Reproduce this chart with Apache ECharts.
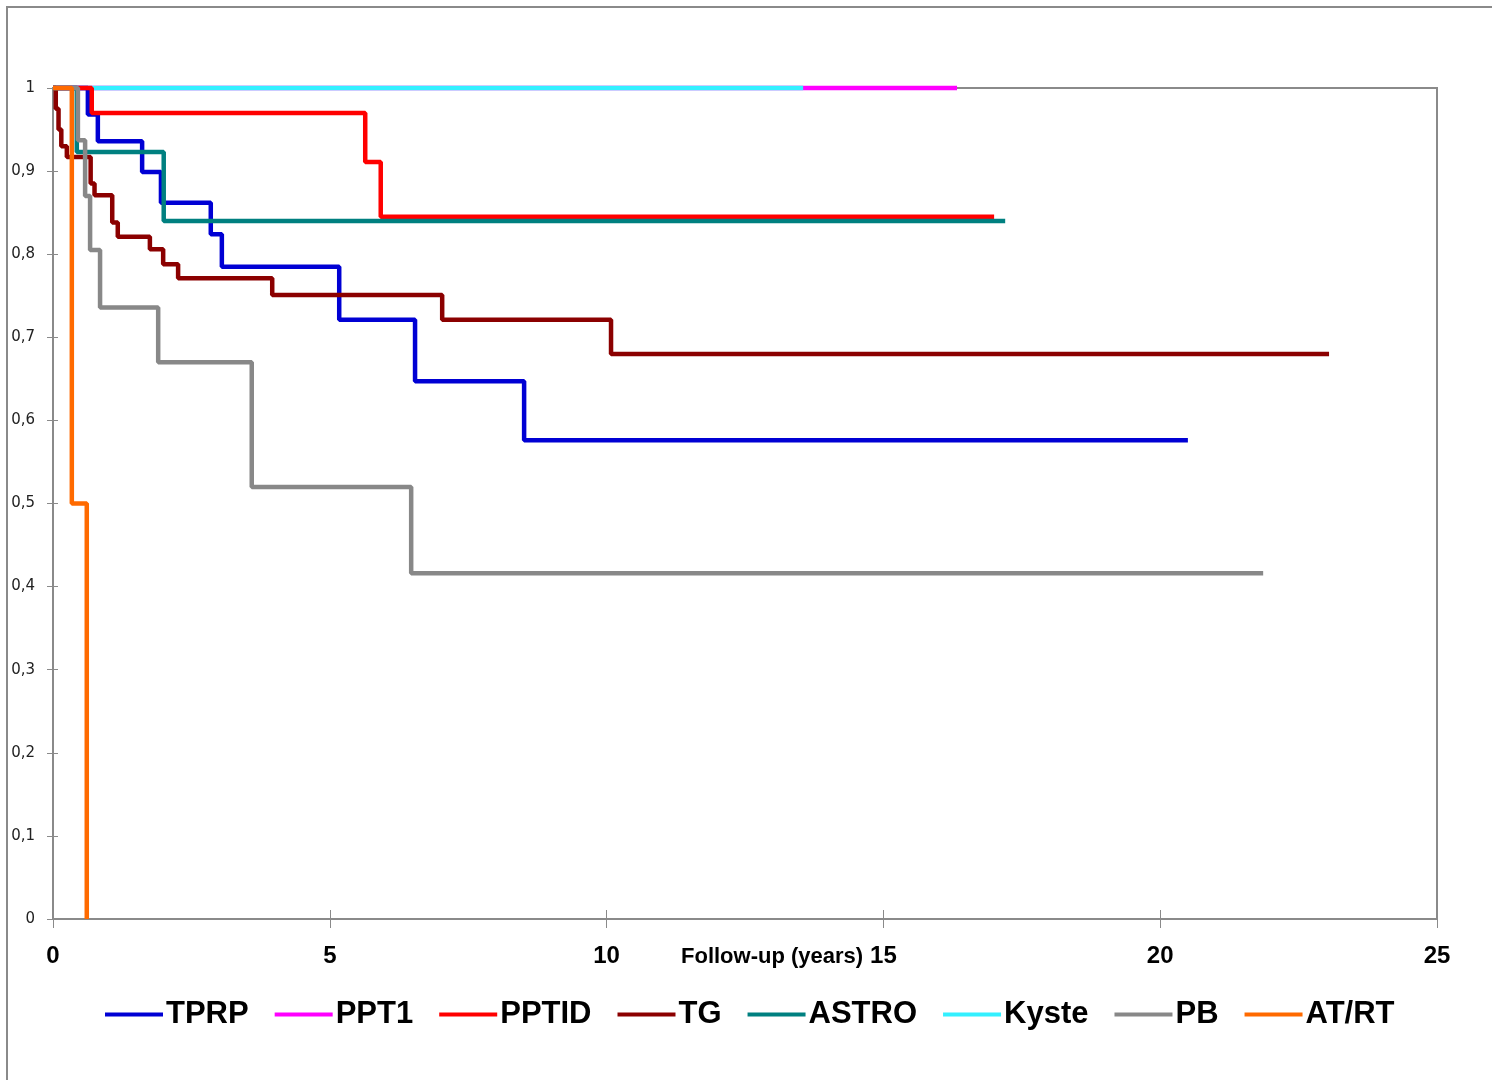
<!DOCTYPE html>
<html>
<head>
<meta charset="utf-8">
<script src="https://cdn.jsdelivr.net/npm/echarts@6/dist/echarts.min.js"></script>
<style>
html,body{margin:0;padding:0;background:#fff;}
#chart{width:1495px;height:1080px;}
</style>
</head>
<body>
<div id="chart"></div>
<script>
// ---- data (years, survival) ----
var seriesNames = ['TPRP', 'PPT1', 'PPTID', 'TG', 'ASTRO', 'Kyste', 'PB', 'AT/RT'];

var tprpTimes = [0, 0.63, 0.81, 1.61, 1.95, 2.85, 3.05, 5.17, 6.54, 8.51, 20.5];
var tprpSurv  = [1, 0.968, 0.936, 0.899, 0.862, 0.824, 0.785, 0.721, 0.647, 0.576, 0.576];

var ppt1Times = [0, 16.33];
var ppt1Surv  = [1, 1];

var pptidTimes = [0, 0.70, 5.64, 5.92, 17.0];
var pptidSurv  = [1, 0.970, 0.911, 0.845, 0.845];

var tgTimes = [0, 0.05, 0.10, 0.15, 0.25, 0.68, 0.75, 1.07, 1.17, 1.75, 1.99, 2.26, 3.96, 7.03, 10.08, 23.05];
var tgSurv  = [1, 0.975, 0.950, 0.930, 0.917, 0.885, 0.871, 0.838, 0.821, 0.806, 0.788, 0.771, 0.751, 0.721, 0.680, 0.680];

var astroTimes = [0, 0.43, 2.0, 17.2];
var astroSurv  = [1, 0.923, 0.840, 0.840];

var kysteTimes = [0, 13.55];
var kysteSurv  = [1, 1];

var pbTimes = [0, 0.45, 0.58, 0.67, 0.85, 1.90, 3.59, 6.47, 21.86];
var pbSurv  = [1, 0.937, 0.870, 0.805, 0.736, 0.670, 0.520, 0.416, 0.416];

var atrtTimes = [0, 0.34, 0.61];
var atrtSurv  = [1, 0.5, 0];

var xTicks = [0, 5, 10, 15, 20, 25];
var yTickLabels = ['0', '0,1', '0,2', '0,3', '0,4', '0,5', '0,6', '0,7', '0,8', '0,9', '1'];
var xAxisTitle = 'Follow-up (years)';

// ---- styling ----
var colors = ['#0000D4', '#FF00FF', '#FF0000', '#8B0000', '#008080', '#33F0FF', '#888888', '#FF6A00'];
var allTimes = [tprpTimes, ppt1Times, pptidTimes, tgTimes, astroTimes, kysteTimes, pbTimes, atrtTimes];
var allSurv = [tprpSurv, ppt1Surv, pptidSurv, tgSurv, astroSurv, kysteSurv, pbSurv, atrtSurv];

function pairs(t, s) { return t.map(function (v, i) { return [v, s[i]]; }); }

// drawing order: PPT1 then Kyste underneath the others
var drawOrder = [1, 5, 0, 2, 3, 4, 6, 7];
var series = drawOrder.map(function (i) {
  return {
    name: seriesNames[i],
    type: 'line',
    step: 'end',
    data: pairs(allTimes[i], allSurv[i]),
    showSymbol: false,
    symbol: 'none',
    clip: false,
    lineStyle: { color: colors[i], width: 4.5 },
    itemStyle: { color: colors[i] },
    z: 3,
    animation: false
  };
});

var chart = echarts.init(document.getElementById('chart'));
var gridL = 53, gridT = 88, gridR = 58, gridB = 161;
var axisGray = '#8a8a8a';
chart.setOption({
  animation: false,
  backgroundColor: '#fff',
  color: colors,
  grid: { left: gridL, top: gridT, right: gridR, bottom: gridB, show: true, borderColor: axisGray, borderWidth: 2, backgroundColor: 'transparent' },
  xAxis: [{
    type: 'value', min: 0, max: 25, interval: 5,
    axisLine: { show: true, lineStyle: { color: axisGray, width: 2 } },
    axisTick: { show: true, length: 9, lineStyle: { color: axisGray, width: 1 } },
    splitLine: { show: false },
    axisLabel: {
      margin: 25, color: '#000', fontFamily: 'Liberation Sans', fontWeight: 'bold', fontSize: 24,
      formatter: function (v) { return xTicks.indexOf(v) >= 0 ? String(v) : ''; }
    }
  }, {
    type: 'value', min: 0, max: 25, interval: 5, position: 'bottom',
    axisLine: { show: false },
    axisTick: { show: true, inside: true, length: 9, lineStyle: { color: axisGray, width: 1 } },
    axisLabel: { show: false }, splitLine: { show: false }
  }],
  yAxis: [{
    type: 'value', min: 0, max: 1, interval: 0.1,
    axisLine: { show: true, lineStyle: { color: axisGray, width: 2 } },
    axisTick: { show: true, length: 6, lineStyle: { color: axisGray, width: 1 } },
    splitLine: { show: false },
    axisLabel: {
      margin: 18, color: '#222', fontFamily: 'DejaVu Sans', fontSize: 15,
      formatter: function (v) { return yTickLabels[Math.round(v * 10)]; }
    }
  }, {
    type: 'value', min: 0, max: 1, interval: 0.1, position: 'left',
    axisLine: { show: false },
    axisTick: { show: true, inside: true, length: 5, lineStyle: { color: axisGray, width: 1 } },
    axisLabel: { show: false }, splitLine: { show: false }
  }],
  legend: {
    data: seriesNames,
    left: 100, top: 994,
    icon: 'rect', itemWidth: 58, itemHeight: 4, itemGap: 26,
    textStyle: { fontFamily: 'Liberation Sans', fontWeight: 'bold', fontSize: 31, color: '#000', padding: [0, 0, 0, -2] }
  },
  graphic: [
    { type: 'polyline', shape: { points: [[7, 1080], [7, 7], [1492, 7]] }, style: { stroke: '#8a8a8a', lineWidth: 2, fill: null }, silent: true },
    { type: 'text', left: 681, top: 946, style: { text: xAxisTitle, font: 'bold 22px "Liberation Sans"', fill: '#000' } }
  ],
  series: series
});
</script>
</body>
</html>
